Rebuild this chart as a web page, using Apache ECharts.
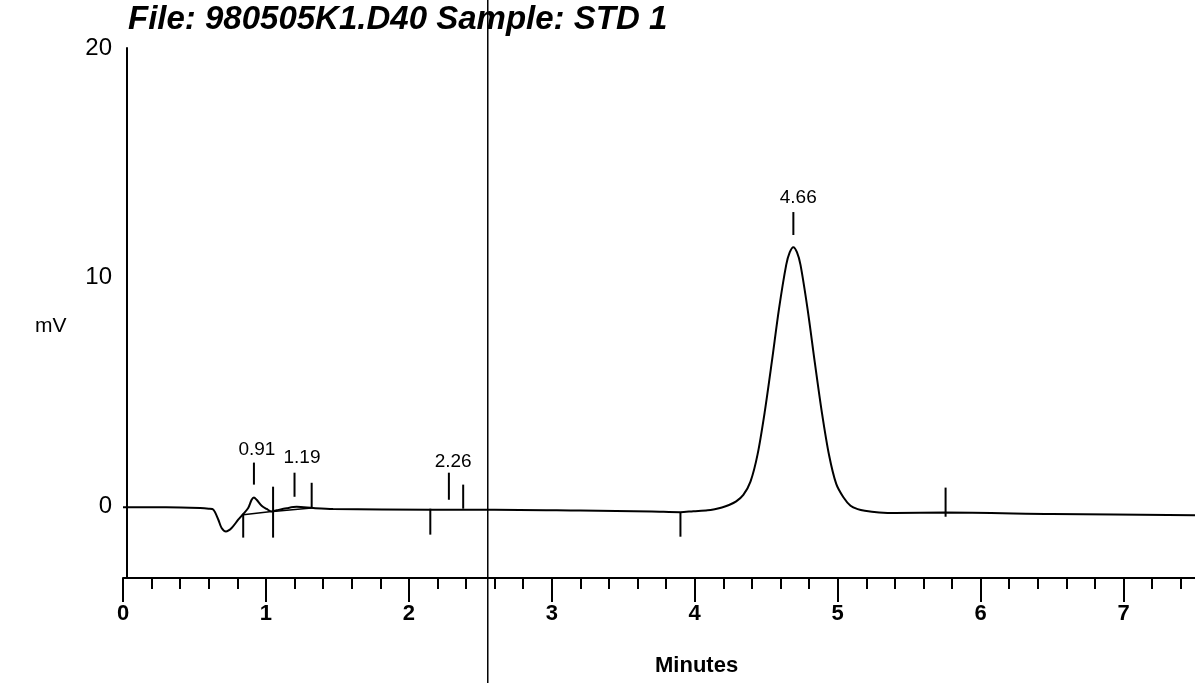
<!DOCTYPE html>
<html>
<head>
<meta charset="utf-8">
<script src="https://cdn.jsdelivr.net/npm/echarts@6/dist/echarts.min.js"></script>
<style>
html,body{margin:0;padding:0;background:#fff;}
#chart{width:1195px;height:683px;}
</style>
</head>
<body>
<div id="chart"></div>
<script>
// ---- data ----
const titleText = 'File: 980505K1.D40 Sample: STD 1';
const yAxisTitle = 'mV';
const xAxisTitle = 'Minutes';
const xTickLabels = [0, 1, 2, 3, 4, 5, 6, 7];
const yTickLabels = [0, 10, 20];
const xMinorStep = 0.2;   // minor tick spacing on the time axis (minutes)

// chromatogram trace (minutes, mV)
const traceTime = [0, 0.3, 0.54, 0.6, 0.632, 0.667, 0.69, 0.72, 0.76, 0.806, 0.841, 0.876, 0.9, 0.916, 0.935, 0.97, 1.005, 1.04, 1.075, 1.145, 1.215, 1.33, 1.47, 2.15, 2.6, 3.2, 3.7, 3.9, 3.99, 4.09, 4.14, 4.19, 4.24, 4.29, 4.34, 4.39, 4.44, 4.49, 4.54, 4.59, 4.64, 4.665, 4.69, 4.715, 4.74, 4.79, 4.84, 4.89, 4.94, 4.99, 5.04, 5.09, 5.14, 5.19, 5.29, 5.4, 5.75, 6.5, 7.5];
const traceMv   = [-0.02, -0.02, -0.05, -0.08, -0.12, -0.56, -0.92, -1.07, -0.92, -0.56, -0.31, -0.05, 0.31, 0.41, 0.31, 0.05, -0.09, -0.2, -0.15, -0.06, 0.0, -0.05, -0.09, -0.12, -0.12, -0.16, -0.2, -0.23, -0.19, -0.15, -0.1, -0.03, 0.08, 0.24, 0.52, 1.1, 2.3, 4.15, 6.35, 8.65, 10.55, 11.1, 11.32, 11.1, 10.55, 8.6, 6.3, 4.1, 2.25, 1.0, 0.42, 0.05, -0.1, -0.17, -0.24, -0.27, -0.25, -0.31, -0.37];

// integration event marks (minutes, top mV, bottom mV)
const markTime   = [0.841, 0.916, 1.05, 1.2, 1.32, 2.15, 2.28, 2.38, 3.9, 4.69, 5.755];
const markTop    = [-0.34, 1.93, 0.88, 1.49, 1.05, -0.08, 1.49, 0.97, -0.25, 12.85, 0.84];
const markBottom = [-1.34, 0.97, -1.34, 0.44, -0.03, -1.21, 0.31, -0.08, -1.3, 11.85, -0.43];

// drawn integration baselines (x1, y1, x2, y2)
const baseStartX = [0.841, 1.05];
const baseStartY = [-0.34, -0.2];
const baseEndX   = [1.04, 1.32];
const baseEndY   = [-0.2, -0.05];

// peak retention-time labels
const peakLabels = ['0.91', '1.19', '2.26', '4.66'];
const peakLabelX = [0.937, 1.252, 2.31, 4.724];
const peakLabelY = [2.49, 2.14, 1.97, 13.47];

// vertical scan line (minutes)
const scanLineX = 2.552;

// ---- build ----
const FONT = '"Liberation Sans", Arial, sans-serif';
const X_MIN = 0, X_MAX = 7.5;
const traceData = traceTime.map((t, i) => [t, traceMv[i]]);
const markData = markTime.map((t, i) => [t, markTop[i], markBottom[i]]);
const baseData = baseStartX.map((x, i) => [x, baseStartY[i], baseEndX[i], baseEndY[i]]);
const labelData = peakLabels.map((s, i) => ({ name: s, value: [peakLabelX[i], peakLabelY[i]] }));
const minorTicks = [];
for (let k = 1; k * xMinorStep < X_MAX; k++) {
  const v = Math.round(k * xMinorStep * 10) / 10;
  if (Math.abs(v - Math.round(v)) > 1e-6) minorTicks.push(v);
}

const chart = echarts.init(document.getElementById('chart'), null, { renderer: 'canvas' });
chart.setOption({
  animation: false,
  backgroundColor: '#ffffff',
  title: {
    text: titleText,
    left: 123,
    top: -2,
    textStyle: { fontFamily: FONT, fontSize: 33, fontWeight: 'bold', fontStyle: 'italic', color: '#000' }
  },
  graphic: [{
    type: 'text', left: 35, top: 316,
    style: { text: yAxisTitle, fontFamily: FONT, fontSize: 21, fill: '#000' }
  }, {
    type: 'text', left: 655, top: 655,
    style: { text: xAxisTitle, fontFamily: FONT, fontSize: 22, fontWeight: 'bold', fill: '#000' }
  }],
  grid: [
    { left: 123, right: 0, top: 48, height: 530, containLabel: false },
    { left: 123, right: 0, top: 0, bottom: 0, containLabel: false }
  ],
  xAxis: [{
    type: 'value', gridIndex: 0, min: X_MIN, max: X_MAX, position: 'bottom',
    axisLine: { show: true, onZero: false, lineStyle: { color: '#000', width: 2 } },
    axisTick: { show: true, inside: false, length: 24, lineStyle: { color: '#000', width: 2 },
      customValues: xTickLabels },
    axisLabel: { show: true, margin: 25, fontFamily: FONT, fontSize: 22, fontWeight: 'bold', color: '#000',
      customValues: xTickLabels },
    splitLine: { show: false }
  }, {
    type: 'value', gridIndex: 0, min: X_MIN, max: X_MAX, position: 'bottom',
    axisLine: { show: false, onZero: false },
    axisTick: { show: true, inside: false, length: 11, lineStyle: { color: '#000', width: 2 },
      customValues: minorTicks },
    axisLabel: { show: false },
    splitLine: { show: false }
  }, {
    type: 'value', gridIndex: 1, min: X_MIN, max: X_MAX, show: false
  }],
  yAxis: [{
    type: 'value', gridIndex: 0, min: -3.1, max: 20, offset: -4,
    axisLine: { show: true, onZero: false, lineStyle: { color: '#000', width: 2 } },
    axisTick: { show: false },
    axisLabel: { show: true, margin: 15, fontFamily: FONT, fontSize: 24, color: '#000',
      customValues: yTickLabels },
    splitLine: { show: false }
  }, {
    type: 'value', gridIndex: 1, min: 0, max: 1, show: false
  }],
  series: [
    {
      type: 'line', xAxisIndex: 0, yAxisIndex: 0, data: traceData,
      showSymbol: false, smooth: 0.3,
      lineStyle: { color: '#000', width: 2 }, z: 3
    },
    {
      type: 'custom', xAxisIndex: 0, yAxisIndex: 0, data: markData,
      encode: { x: 0, y: [1, 2] },
      renderItem: function (params, api) {
        const p1 = api.coord([api.value(0), api.value(1)]);
        const p2 = api.coord([api.value(0), api.value(2)]);
        return { type: 'line', shape: { x1: p1[0], y1: p1[1], x2: p2[0], y2: p2[1] },
          style: { stroke: '#000', lineWidth: 2 } };
      }, z: 4
    },
    {
      type: 'custom', xAxisIndex: 0, yAxisIndex: 0, data: baseData,
      encode: { x: [0, 2], y: [1, 3] },
      renderItem: function (params, api) {
        const p1 = api.coord([api.value(0), api.value(1)]);
        const p2 = api.coord([api.value(2), api.value(3)]);
        return { type: 'line', shape: { x1: p1[0], y1: p1[1], x2: p2[0], y2: p2[1] },
          style: { stroke: '#000', lineWidth: 1.5 } };
      }, z: 3
    },
    {
      type: 'scatter', xAxisIndex: 0, yAxisIndex: 0, data: labelData,
      symbolSize: 0, itemStyle: { opacity: 1 },
      label: { show: true, position: 'inside', formatter: '{b}', fontFamily: FONT, fontSize: 19, color: '#000' },
      z: 5
    },
    {
      type: 'line', xAxisIndex: 2, yAxisIndex: 1,
      data: [[scanLineX, 0], [scanLineX, 1]],
      showSymbol: false, lineStyle: { color: '#000', width: 1.5 }, z: 2
    }
  ]
});
</script>
</body>
</html>
